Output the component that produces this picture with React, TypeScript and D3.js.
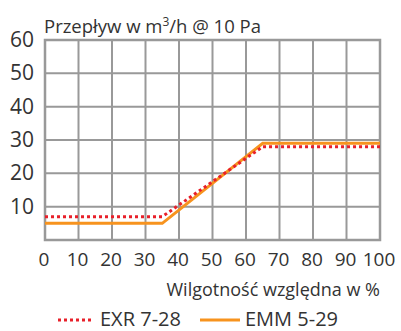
import React from "react";
import * as d3 from "d3";

const xTicks = [0, 10, 20, 30, 40, 50, 60, 70, 80, 90, 100];
const yTicks = [10, 20, 30, 40, 50, 60];
const yGrid = [0, 10, 20, 30, 40, 50, 60];
const exrX = [0, 35, 65, 100];
const exrY = [7, 7, 28, 28];
const emmX = [0, 35, 65, 100];
const emmY = [5, 5, 29, 29];
const titleText = "Przepływ w m";
const xTitle = "Wilgotność względna w %";
const seriesNames = ["EXR 7-28", "EMM 5-29"];

const W = 401, H = 331;
const M = { left: 45, right: 21, top: 40, bottom: 91 };
const FONT = "'Open Sans', sans-serif";

export default function App() {
  const x = d3.scaleLinear().domain([0, 100]).range([M.left, W - M.right]);
  const y = d3.scaleLinear().domain([0, 60]).range([H - M.bottom, M.top]);
  const line = d3.line<[number, number]>().x(d => x(d[0])).y(d => y(d[1]));
  const exr = line(exrX.map((v, i) => [v, exrY[i]] as [number, number])) || "";
  const emm = line(emmX.map((v, i) => [v, emmY[i]] as [number, number])) || "";
  const grid = "#999999";
  const txt = "#333";
  return (
    <svg width={W} height={H} style={{ position: "absolute", left: 0, top: 0 }} fontFamily={FONT}>
      <rect x={0} y={0} width={W} height={H} fill="#fff" />
      {xTicks.map(t => (
        <line key={"gx" + t} x1={x(t)} x2={x(t)} y1={y(0)} y2={y(60)} stroke={grid} strokeWidth={2} />
      ))}
      {yGrid.map(t => (
        <line key={"gy" + t} x1={x(0)} x2={x(100)} y1={y(t)} y2={y(t)} stroke={grid} strokeWidth={2} />
      ))}
      <rect x={x(0)} y={y(60)} width={x(100) - x(0)} height={y(0) - y(60)} fill="none" stroke={grid} strokeWidth={2.5} />
      <path d={emm} fill="none" stroke="#f7931e" strokeWidth={3} />
      <path d={exr} fill="none" stroke="#e8202a" strokeWidth={3} strokeDasharray="3,3" />
      {yTicks.map(t => (
        <text key={"yl" + t} x={34} y={y(t) + 7} textAnchor="end" fontSize={21} fill={txt}>{t}</text>
      ))}
      {xTicks.map(t => (
        <text key={"xl" + t} x={x(t) - 1} y={266} textAnchor="middle" fontSize={19} fill={txt}>{t}</text>
      ))}
      <text x={44} y={33} fontSize={18.5} fill={txt}>
        {titleText}<tspan dy={-7} fontSize={12}>3</tspan><tspan dy={7}>/h @ 10 Pa</tspan>
      </text>
      <text x={380} y={296} textAnchor="end" fontSize={18} fill={txt}>{xTitle}</text>
      <line x1={58} x2={92} y1={320} y2={320} stroke="#e8202a" strokeWidth={3} strokeDasharray="3,3" />
      <text x={100} y={326} fontSize={20} fill={txt}>{seriesNames[0]}</text>
      <line x1={200} x2={240} y1={320} y2={320} stroke="#f7931e" strokeWidth={3} />
      <text x={245} y={326} fontSize={20} fill={txt}>{seriesNames[1]}</text>
    </svg>
  );
}
